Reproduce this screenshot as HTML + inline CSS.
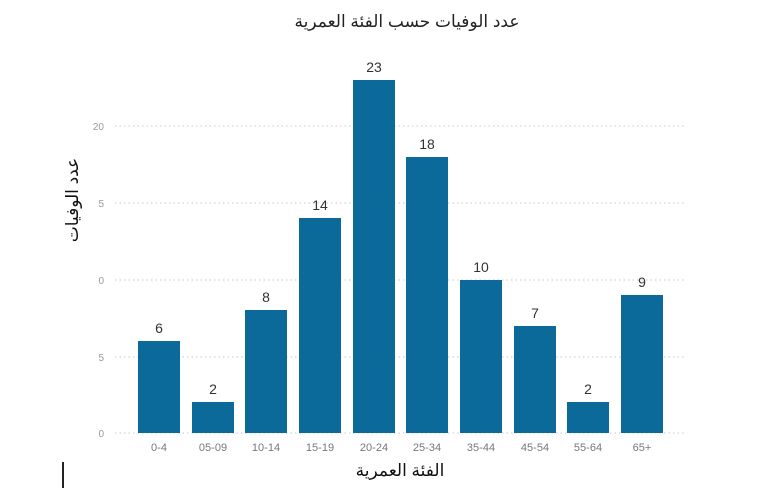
<!DOCTYPE html>
<html><head><meta charset="utf-8"><style>
html,body{margin:0;padding:0;background:#fff}
svg{display:block}
text{font-family:"Liberation Sans","DejaVu Sans",sans-serif}
</style></head><body>
<svg width="768" height="488" viewBox="0 0 768 488" xmlns="http://www.w3.org/2000/svg">
<text x="407" y="27" font-size="17" text-anchor="middle" fill="#222" direction="rtl">عدد الوفيات حسب الفئة العمرية</text>
<g stroke="#c8c8c8" stroke-width="1" stroke-dasharray="1.5,3">
<line x1="115" y1="126" x2="685" y2="126"/>
<line x1="115" y1="203" x2="685" y2="203"/>
<line x1="115" y1="280" x2="685" y2="280"/>
<line x1="115" y1="357" x2="685" y2="357"/>
<line x1="115" y1="433" x2="685" y2="433"/>
</g>
<g font-size="10" fill="#999" text-anchor="end">
<text x="104" y="130">20</text>
<text x="104" y="207">5</text>
<text x="104" y="284">0</text>
<text x="104" y="361">5</text>
<text x="104" y="437">0</text>
</g>
<text transform="translate(78,200) rotate(-90)" font-size="17" text-anchor="middle" fill="#111" direction="rtl">عدد الوفيات</text>
<g fill="#0b6a9a">
<rect x="138" y="341" width="42" height="92"/>
<rect x="192" y="402" width="42" height="31"/>
<rect x="245" y="310" width="42" height="123"/>
<rect x="299" y="218" width="42" height="215"/>
<rect x="353" y="80" width="42" height="353"/>
<rect x="406" y="157" width="42" height="276"/>
<rect x="460" y="280" width="42" height="153"/>
<rect x="514" y="326" width="42" height="107"/>
<rect x="567" y="402" width="42" height="31"/>
<rect x="621" y="295" width="42" height="138"/>
</g>
<g font-size="14" fill="#333" text-anchor="middle">
<text x="159" y="333">6</text>
<text x="213" y="394">2</text>
<text x="266" y="302">8</text>
<text x="320" y="210">14</text>
<text x="374" y="72">23</text>
<text x="427" y="149">18</text>
<text x="481" y="272">10</text>
<text x="535" y="318">7</text>
<text x="588" y="394">2</text>
<text x="642" y="287">9</text>
</g>
<g font-size="11" fill="#777" text-anchor="middle">
<text x="159" y="451">0-4</text>
<text x="213" y="451">05-09</text>
<text x="266" y="451">10-14</text>
<text x="320" y="451">15-19</text>
<text x="374" y="451">20-24</text>
<text x="427" y="451">25-34</text>
<text x="481" y="451">35-44</text>
<text x="535" y="451">45-54</text>
<text x="588" y="451">55-64</text>
<text x="642" y="451">65+</text>
</g>
<text x="400" y="476" font-size="17" text-anchor="middle" fill="#111" direction="rtl">الفئة العمرية</text>
<rect x="62" y="462" width="2" height="26" fill="#222"/>
</svg>
</body></html>
